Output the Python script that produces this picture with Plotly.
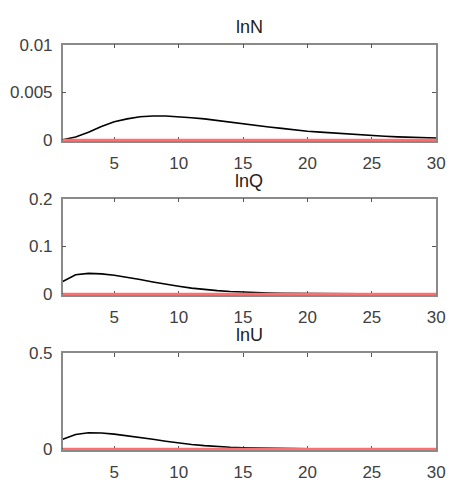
import plotly.graph_objects as go

periods = list(range(1, 31))

lnN_response = [0.0, 0.0003, 0.0008, 0.0014, 0.0019, 0.0022, 0.00242, 0.0025, 0.0025, 0.00243,
                0.00232, 0.0022, 0.00203, 0.00185, 0.00163, 0.0015, 0.00135, 0.0012, 0.00103, 0.0009,
                0.0008, 0.0007, 0.0006, 0.0005, 0.00043, 0.00037, 0.00031, 0.00026, 0.00022, 0.00018]
lnQ_response = [0.026, 0.040, 0.043, 0.042, 0.039, 0.035, 0.030, 0.025, 0.020, 0.016,
                0.012, 0.009, 0.0068, 0.005, 0.0036, 0.0026, 0.0018, 0.0013, 0.0009, 0.0006,
                0.0004, 0.0003, 0.0002, 0.00015, 0.0001, 0.00008, 0.00006, 0.00005, 0.00004, 0.00003]
lnU_response = [0.050, 0.075, 0.084, 0.083, 0.077, 0.069, 0.060, 0.050, 0.040, 0.031,
                0.023, 0.017, 0.012, 0.0085, 0.006, 0.004, 0.0028, 0.0019, 0.0013, 0.0009,
                0.0006, 0.0004, 0.0003, 0.0002, 0.00015, 0.0001, 0.00008, 0.00006, 0.00005, 0.00004]
zero_line = [0.0] * 30

titles = ["lnN", "lnQ", "lnU"]
series = [lnN_response, lnQ_response, lnU_response]
y_max = [0.01, 0.2, 0.5]
y_ticks = [[0, 0.005, 0.01], [0, 0.1, 0.2], [0, 0.5]]
y_ticklabels = [["0", "0.005", "0.01"], ["0", "0.1", "0.2"], ["0", "0.5"]]
x_ticks = [5, 10, 15, 20, 25, 30]

W, H = 457, 486
x_dom = [64 / W, 445 / W]
y_px = [(37, 137), (197, 297), (357, 458)]

fig = go.Figure()
font = dict(family="Liberation Sans, Arial, sans-serif", size=17, color="#404040")

for i in range(3):
    xa = "x" if i == 0 else f"x{i+1}"
    ya = "y" if i == 0 else f"y{i+1}"
    fig.add_trace(go.Scatter(x=periods, y=series[i], mode="lines",
                             line=dict(color="black", width=1.6), xaxis=xa, yaxis=ya,
                             showlegend=False))
    fig.add_trace(go.Scatter(x=periods, y=zero_line, mode="lines",
                             line=dict(color="#ff6f6f", width=2.2), xaxis=xa, yaxis=ya,
                             showlegend=False))
    top, bot = y_px[i]
    dom = [1 - bot / H, 1 - top / H]
    common = dict(showline=True, linecolor="#8a8a8a", linewidth=1.5, mirror="ticks",
                  ticks="inside", ticklen=4, tickcolor="#555555", tickwidth=1,
                  showgrid=False, zeroline=False, tickfont=font, layer="below traces")
    fig.layout[f"xaxis{'' if i == 0 else i+1}"] = dict(
        domain=x_dom, range=[1, 30], tickvals=x_ticks, anchor=ya,
        ticklabelstandoff=6, **common)
    fig.layout[f"yaxis{'' if i == 0 else i+1}"] = dict(
        domain=dom, range=[-0.012 * y_max[i], y_max[i]], tickvals=y_ticks[i],
        ticktext=y_ticklabels[i], anchor=xa, ticklabelstandoff=5, **common)
    fig.add_annotation(text=titles[i], x=(x_dom[0] + x_dom[1]) / 2, y=dom[1],
                       xref="paper", yref="paper", xanchor="center", yanchor="bottom",
                       yshift=6, showarrow=False,
                       font=dict(family="Liberation Sans, Arial, sans-serif", size=18, color="#222222"))

fig.update_layout(width=W, height=H, margin=dict(l=0, r=0, t=0, b=0),
                  paper_bgcolor="white", plot_bgcolor="white")

fig.write_html("out.html", config={"displayModeBar": False},
               post_script="document.body.style.margin='0';document.body.style.overflow='hidden';")
